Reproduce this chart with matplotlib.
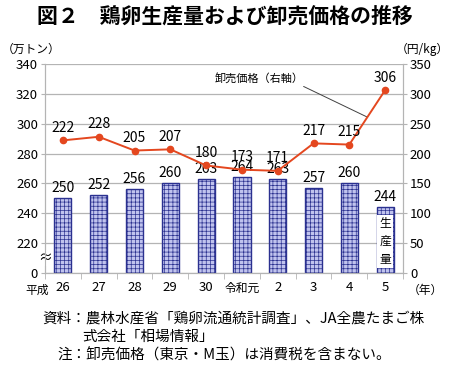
import matplotlib.pyplot as plt

plt.rcParams['font.family'] = ['Noto Sans CJK JP', 'DejaVu Sans']

years = ['26', '27', '28', '29', '30', '令和元', '2', '3', '4', '5']
production = [250, 252, 256, 260, 263, 264, 263, 257, 260, 244]  # 万トン
price = [222, 228, 205, 207, 180, 173, 171, 217, 215, 306]  # 円/kg
left_ticks = [0, 220, 240, 260, 280, 300, 320, 340]
right_ticks = [0, 50, 100, 150, 200, 250, 300, 350]

BASE = 200  # 左軸は 0〜200 を省略
grid_c = '#b4b4b4'
bar_face = '#c0c3ee'
bar_edge = '#2b3190'
line_c = '#e4471f'

fig = plt.figure(figsize=(4.5, 3.69), dpi=100)
ax = fig.add_axes([0.1, 0.26, 0.7956, 0.5669])
ax2 = ax.twinx()

x = list(range(len(years)))
heights = [v - BASE for v in production]
plt.rcParams['hatch.linewidth'] = 0.5
bars = ax.bar(x, heights, width=0.48, color=bar_face, edgecolor=bar_edge,
              hatch='++++', linewidth=1.0, zorder=2)
for xi, v, h in zip(x, production, heights):
    ax.text(xi, h + 2, str(v), ha='center', va='bottom', fontsize=10, zorder=4)

# 最終年の「生産量」ラベル
ax.text(x[-1], heights[-1] / 2 - 1, '生\n産\n量', ha='center', va='center',
        fontsize=8.5, linespacing=1.5, zorder=3,
        bbox=dict(facecolor='white', edgecolor='none', pad=1.5))

ax.set_xlim(-0.5, len(years) - 0.5)
ax.set_ylim(0, 140)
ax.set_yticks([0] + [v - BASE for v in left_ticks[1:]])
ax.set_yticklabels([str(v) for v in left_ticks], fontsize=9.5)
ax.yaxis.grid(True, color=grid_c, linewidth=0.9, zorder=0)
ax.set_axisbelow(True)

ax.set_xticks(x)
ax.set_xticklabels(years, fontsize=9.5)
for lab in ax.get_xticklabels():
    if lab.get_text() == '令和元':
        lab.set_fontsize(8.5)
ax.tick_params(axis='x', length=0, pad=6)
ax.set_xticks([i + 0.5 for i in range(-1, len(years))], minor=True)
ax.tick_params(axis='x', which='minor', length=4, color=grid_c, direction='out')
ax.tick_params(axis='y', length=3, color=grid_c, pad=2)

for s in ['top']:
    ax.spines[s].set_visible(False)
    ax2.spines[s].set_visible(False)
for s in ['left', 'bottom', 'right']:
    ax.spines[s].set_color(grid_c)
    ax2.spines[s].set_color(grid_c)

# 省略記号
ax.text(0, 10, '≈', transform=ax.get_yaxis_transform(), ha='center',
        va='center', fontsize=10, zorder=5,
        bbox=dict(facecolor='white', edgecolor='none', pad=0.5))

ax2.plot(x, price, color=line_c, linewidth=1.4, marker='o', markersize=4.5,
         zorder=5)
for xi, p in zip(x, price):
    ax2.text(xi, p + 9, str(p), ha='center', va='bottom', fontsize=10, zorder=6)
ax2.set_ylim(0, 350)
ax2.set_yticks(right_ticks)
ax2.set_yticklabels([str(v) for v in right_ticks], fontsize=9.5)
ax2.tick_params(axis='y', length=3, color=grid_c, pad=2)

ax2.annotate('卸売価格（右軸）', xy=(8.5, 261), xytext=(4.25, 326),
             fontsize=8, ha='left', va='center',
             arrowprops=dict(arrowstyle='-', color='#404040', linewidth=0.7,
                             relpos=(0.93, 0.0), shrinkA=0, shrinkB=0))

fig.text(0.5, 0.955, '図２　鶏卵生産量および卸売価格の推移', ha='center',
         va='center', fontsize=15, fontweight='bold')
fig.text(0.005, 0.865, '（万トン）', ha='left', va='center', fontsize=8.5)
fig.text(0.998, 0.865, '（円/kg）', ha='right', va='center', fontsize=8.5)
fig.text(0.083, 0.213, '平成', ha='center', va='center', fontsize=8.5)
fig.text(0.945, 0.213, '（年）', ha='center', va='center', fontsize=8.5)

fig.text(0.095, 0.138, '資料：農林水産省「鶏卵流通統計調査」、JA全農たまご株',
         ha='left', va='center', fontsize=10.5)
fig.text(0.183, 0.087, '式会社「相場情報」', ha='left', va='center', fontsize=10.5)
fig.text(0.128, 0.036, '注：卸売価格（東京・M玉）は消費税を含まない。',
         ha='left', va='center', fontsize=10.5)

fig.savefig('out.png', dpi=100)
